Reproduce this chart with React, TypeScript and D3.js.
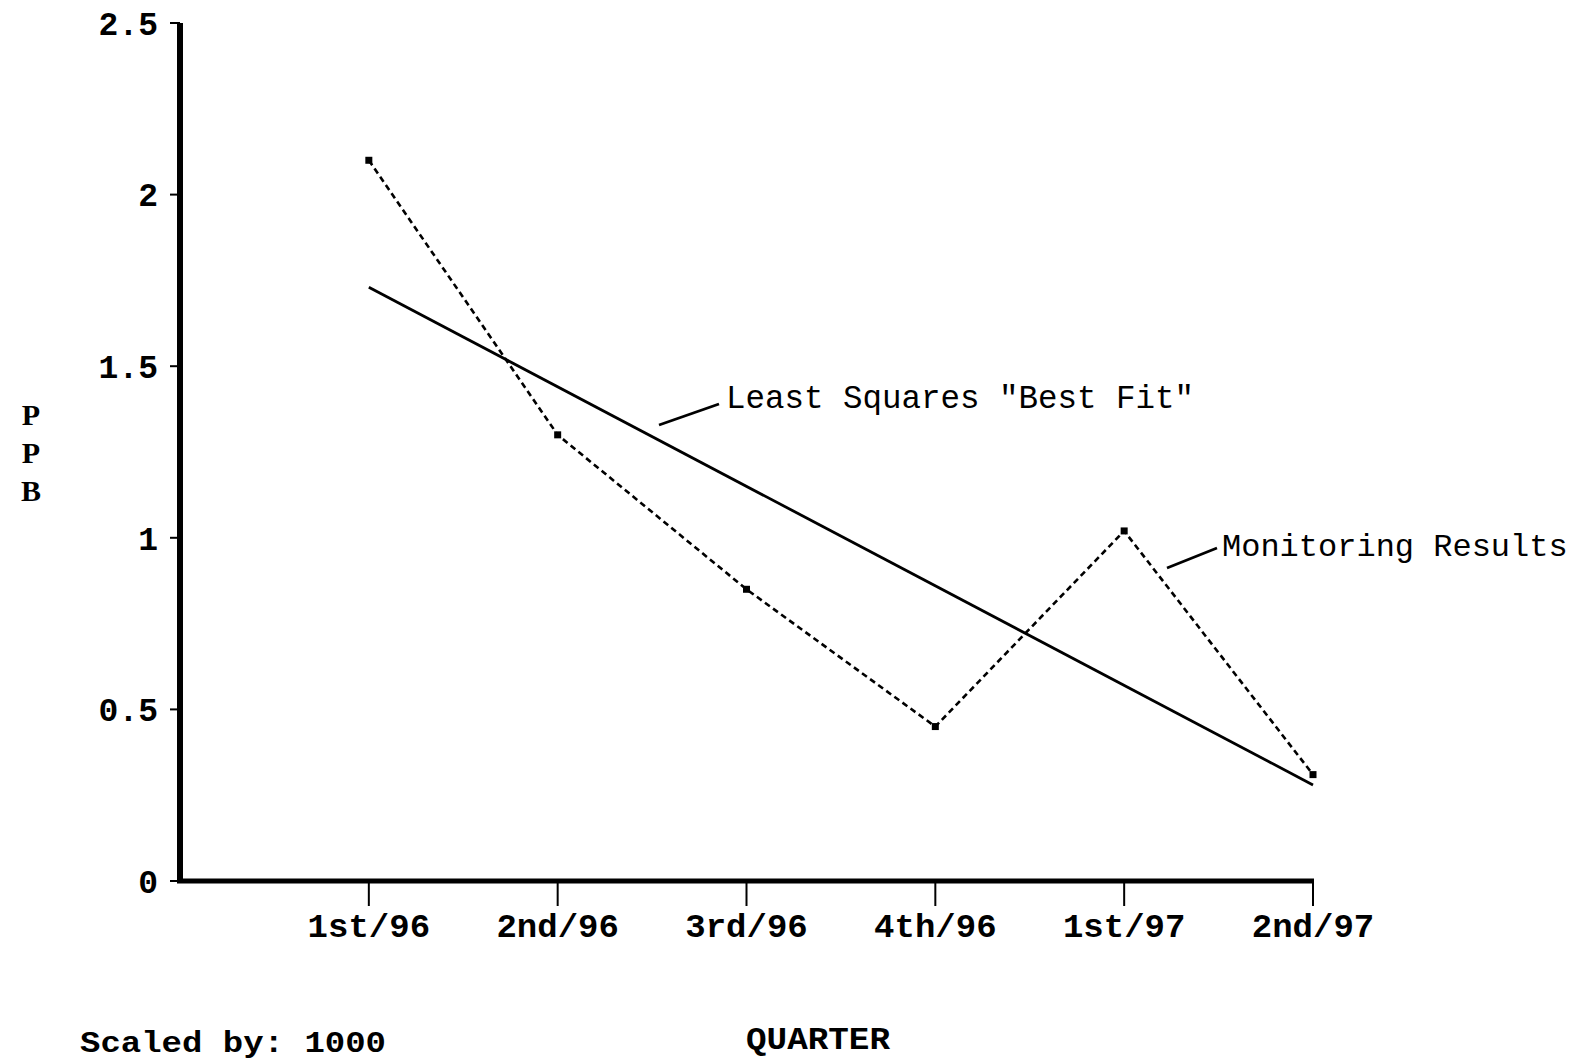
import React from "react";
import * as d3 from "d3";

const quarters = ["1st/96", "2nd/96", "3rd/96", "4th/96", "1st/97", "2nd/97"];
const monitoring = [2.1, 1.3, 0.85, 0.45, 1.02, 0.31];
const fitEnds = [1.73, 0.28];
const yTicks = [0, 0.5, 1, 1.5, 2, 2.5];

const W = 1577;
const H = 1063;

export default function App() {
  const x = d3.scaleLinear().domain([-1, quarters.length - 1]).range([180, 1313]);
  const y = d3.scaleLinear().domain([0, 2.5]).range([881, 23]);

  const line = d3
    .line<number>()
    .x((_, i) => x(i))
    .y((d) => y(d));

  const fitLine = d3
    .line<number>()
    .x((_, i) => x(i === 0 ? 0 : quarters.length - 1))
    .y((d) => y(d));

  const tickFont = "'Liberation Mono', 'DejaVu Sans Mono', monospace";

  return (
    <svg
      width={W}
      height={H}
      style={{ position: "absolute", left: 0, top: 0, background: "#fff" }}
    >
      <rect x={0} y={0} width={W} height={H} fill="#fff" />
      {/* y axis */}
      <line x1={180} x2={180} y1={y(2.5)} y2={y(0) + 2} stroke="#000" strokeWidth={6} />
      {/* x axis */}
      <line x1={177} x2={x(quarters.length - 1) + 1} y1={y(0)} y2={y(0)} stroke="#000" strokeWidth={5} />
      {yTicks.map((t) => (
        <g key={t}>
          <line x1={170} x2={180} y1={y(t)} y2={y(t)} stroke="#000" strokeWidth={2} />
          <text
            x={158}
            y={y(t)}
            dy="0.36em"
            textAnchor="end"
            fontFamily={tickFont}
            fontWeight="bold"
            fontSize={33}
          >
            {t === 0 ? "0" : String(t)}
          </text>
        </g>
      ))}
      {quarters.map((q, i) => (
        <g key={q}>
          <line x1={x(i)} x2={x(i)} y1={y(0)} y2={y(0) + 25} stroke="#000" strokeWidth={2} />
          <text
            x={x(i)}
            y={y(0) + 56}
            textAnchor="middle"
            fontFamily={tickFont}
            fontWeight="bold"
            fontSize={34}
          >
            {q}
          </text>
        </g>
      ))}
      {/* best fit */}
      <path d={fitLine(fitEnds) || ""} fill="none" stroke="#000" strokeWidth={2.8} />
      {/* monitoring results */}
      <path
        d={line(monitoring) || ""}
        fill="none"
        stroke="#000"
        strokeWidth={2.6}
        strokeDasharray="6,4"
      />
      {monitoring.map((v, i) => (
        <rect key={i} x={x(i) - 3.5} y={y(v) - 3.5} width={7} height={7} fill="#000" />
      ))}
      {/* annotations */}
      <line x1={659} x2={719} y1={425} y2={404} stroke="#000" strokeWidth={2.8} />
      <text x={726} y={408} fontFamily={tickFont} fontSize={32.5}>
        Least Squares "Best Fit"
      </text>
      <line x1={1167} x2={1217} y1={568} y2={548} stroke="#000" strokeWidth={2.8} />
      <text x={1222} y={556} fontFamily={tickFont} fontSize={32}>
        Monitoring Results
      </text>
      {/* y label */}
      {["P", "P", "B"].map((c, i) => (
        <text
          key={i}
          x={31}
          y={425 + i * 38}
          textAnchor="middle"
          fontFamily="'Liberation Serif', serif"
          fontWeight="bold"
          fontSize={30}
        >
          {c}
        </text>
      ))}
      <text
        x={80}
        y={1052}
        fontFamily={tickFont}
        fontWeight="bold"
        fontSize={30}
        textLength={306}
        lengthAdjust="spacingAndGlyphs"
      >
        Scaled by: 1000
      </text>
      <text
        x={746}
        y={1049}
        fontFamily={tickFont}
        fontWeight="bold"
        fontSize={31}
        textLength={144}
        lengthAdjust="spacingAndGlyphs"
      >
        QUARTER
      </text>
    </svg>
  );
}
